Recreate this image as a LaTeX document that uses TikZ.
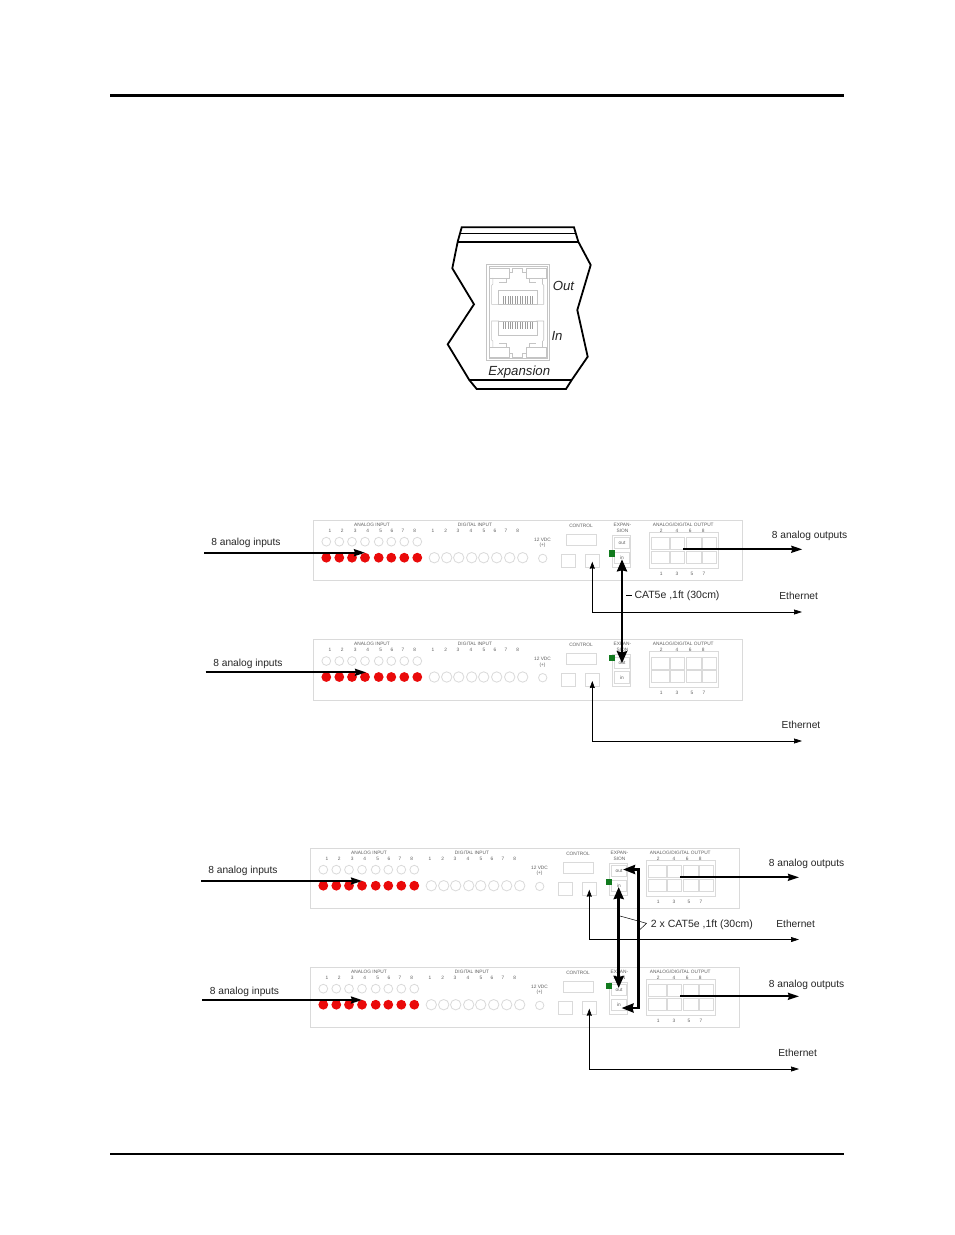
\documentclass[tikz,border=0pt]{standalone}
\usepackage{fontspec}
\setmainfont{Liberation Sans}
\usetikzlibrary{arrows.meta}
\definecolor{pline}{HTML}{DADADA}
\definecolor{ptext}{HTML}{606060}
\definecolor{ledred}{HTML}{EA0A0A}
\definecolor{ledgreen}{HTML}{117A1E}
\definecolor{jack}{HTML}{C4C4C4}
\newcommand{\smallsz}{\fontsize{4.8}{5}\selectfont}
\newcommand{\labsz}{\fontsize{10.2}{12}\selectfont}
\newcommand{\catsz}{\fontsize{10.5}{12}\selectfont}
\tikzset{
  x=1pt,y=-1pt,
  pbox/.style={draw=pline,line width=.8pt},
  ptxt/.style={inner sep=0pt,text=ptext,font=\smallsz},
  lab/.style={inner sep=0pt,text=black!85,font=\labsz},
  catlab/.style={inner sep=0pt,text=black!85,font=\catsz,anchor=west},
  fat/.style={line width=2.9pt,{Stealth[length=12pt,width=10pt,inset=1pt]}-{Stealth[length=12pt,width=10pt,inset=1pt]}},
  fatloop/.style={line width=2.7pt,line join=miter,{Stealth[length=12pt,width=9pt,inset=1pt]}-{Stealth[length=12pt,width=9pt,inset=1pt]}},
  feed/.style={line width=1.9pt,-{Stealth[length=11pt,width=7pt,inset=1pt]}},
  eth/.style={line width=.6pt,{Stealth[length=7pt,width=5pt,inset=.5pt]}-{Stealth[length=8pt,width=5pt,inset=.5pt]}},
  jk/.style={draw=jack,line width=.55pt},
  shell/.style={draw=black,line width=1.8pt,line join=miter},
  ital/.style={inner sep=0pt,text=black!85,font=\fontsize{13.2}{15}\selectfont\itshape},
}
% #1 name, #2 dx, #3 dy, #4 green-square top y
\newcommand{\rackpanel}[4]{%
\begin{scope}[shift={(#2,#3)}]
  \node[pbox,inner sep=0pt,minimum width=428.7pt,minimum height=60.8pt,anchor=north west] (#1body) at (313,519.5) {};
  \node[ptxt] (#1at) at (372,524.7) {ANALOG INPUT};
  \node[ptxt] (#1dt) at (475,524.7) {DIGITAL INPUT};
  \foreach \x/\t in {330/1,342.3/2,355.3/3,367.7/4,380.7/5,392/6,403/7,414.7/8}
    \node[ptxt] at (\x,530.9) {\t};
  \foreach \x/\t in {433/1,445.7/2,458/3,471/4,484/5,495/6,506/7,517.7/8}
    \node[ptxt] at (\x,530.9) {\t};
  \foreach \x in {326.3,339.3,352,365,378.7,391.3,404.3,417.3}{
    \draw[pbox] (\x,541.7) circle[radius=4.4];
    \fill[ledred] (\x,557.7) circle[radius=4.9];
  }
  \foreach \x in {434.3,446.7,458.7,471.7,483.7,496.7,509.7,522.7}
    \draw[pbox] (\x,557.7) circle[radius=5.2];
  \node[ptxt] at (542.5,540) {12 VDC};
  \node[ptxt] at (542.5,545.5) {(+)};
  \draw[pbox] (542.7,558.4) circle[radius=4.2];
  \node[ptxt] at (581,526) {CONTROL};
  \draw[pbox] (566.3,534.3) rectangle (596.3,545.3);
  \draw[pbox] (561.3,554.5) rectangle (575.7,567);
  \draw[pbox] (585.3,554.5) rectangle (599.7,567);
  \coordinate (#1ctl) at (592.3,561.7);
  \node[ptxt] at (622.5,524.7) {EXPAN-};
  \node[ptxt] at (622.5,530.9) {SION};
  \draw[pbox] (612.3,535.3) rectangle (630.7,567);
  \draw[pbox] (614.7,537.7) rectangle (629.3,548.7);
  \draw[pbox] (614.7,552.3) rectangle (629.3,563.7);
  \node[ptxt] at (622,543.2) {out};
  \node[ptxt] at (622,558) {in};
  \fill[ledgreen] (608.7,#4) rectangle ++(6.6,6.2);
  \node[ptxt] at (683.3,524.7) {ANALOG/DIGITAL OUTPUT};
  \foreach \x/\t in {661.3/2,677/4,690.3/6,703.3/8}
    \node[ptxt] at (\x,530.9) {\t};
  \draw[pbox] (649.3,532.3) rectangle (718.3,568.3);
  \foreach \a/\b in {651.3/669,670/684.7,686.3/701,702.3/716.7}{
    \draw[pbox] (\a,537.7) rectangle (\b,549.7);
    \draw[pbox] (\a,551.3) rectangle (\b,563.3);
  }
  \coordinate (#1outp) at (683.3,549.3);
  \foreach \x/\t in {661.3/1,677/3,692/5,704/7}
    \node[ptxt] at (\x,573.9) {\t};
\end{scope}}
% one network jack; base line at the origin, body towards negative y
\newcommand{\rjjack}[1]{%
\begin{scope}[yscale=#1]
  \draw[jk] (-46,-68) rectangle (-14,-50);
  \draw[jk] (14,-68) rectangle (46,-50);
  \draw[jk] (-14,-60) -- (-8,-60) -- (-8,-68) -- (8,-68) -- (8,-60) -- (14,-60);
  \draw[jk] (-40,-50) -- (-40,-38) -- (-42,-36) -- (-42,0) -- (-30,0);
  \draw[jk] (40,-50) -- (40,-38) -- (42,-36) -- (42,0) -- (30,0);
  \draw[jk] (-18,-50) -- (-18,-42) -- (-30,-42);
  \draw[jk] (18,-50) -- (18,-42) -- (30,-42);
  \draw[jk] (-31,0) -- (-31,-26) -- (31,-26) -- (31,0) -- cycle;
  \foreach \k in {-24,-20,...,24}
    \draw[draw=jack!80!black,line width=.5pt] (\k,-1) -- (\k,-16);
\end{scope}}
\begin{document}
\begin{tikzpicture}
\useasboundingbox (0,0) rectangle (954,1235);
\fill[white] (0,0) rectangle (954,1235);
% page rules
\coordinate (hl) at (110,95.8); \coordinate (hr) at (844,95.8);
\coordinate (fl) at (110,1154); \coordinate (fr) at (844,1154);
\draw[line width=3pt,black] (hl) -- (hr);
\draw[line width=2pt,black] (fl) -- (fr);
% expansion close-up
\draw[shell] (461.7,227.3) -- (574,227.3) -- (578.3,241.7) -- (590.7,265) -- (577.3,310) -- (587.7,356.7) -- (571.7,380) -- (566,389) -- (476.7,389) -- (469.3,380) -- (447.7,344.3) -- (474,304.3) -- (452.3,268.3) -- (457.7,241.7) -- cycle;
\draw[line width=1.2pt] (460.3,233.3) -- (575.8,233.3);
\draw[line width=2.2pt] (457.7,241.7) -- (578.3,241.7);
\draw[line width=2.2pt] (469.3,380) -- (571.7,380);
\draw[draw=jack,line width=.7pt] (486.7,264.3) rectangle (549.3,360.7);
\draw[jk] (489,266.5) rectangle (547,358.5);
\begin{scope}[shift={(517.7,304.3)},x=.62pt,y=-.53pt]
  \rjjack{1}
\end{scope}
\begin{scope}[shift={(517.7,321)},x=.62pt,y=-.53pt]
  \rjjack{-1}
\end{scope}
\node[ital] (jout) at (563.5,285.7) {Out};
\node[ital] (jin) at (557,336.3) {In};
\node[ital] (jexp) at (519.3,372) {Expansion};
% first pair of units
\rackpanel{a}{0}{0}{550.3}
\rackpanel{b}{0}{119.3}{535.5}
\coordinate (as) at (204.3,552.7); \coordinate (ae) at (365,552.7);
\coordinate (bs) at (205.5,672.3); \coordinate (be) at (366,672.3);
\draw[feed] (as) -- (ae);
\draw[feed] (bs) -- (be);
\node[lab] (ali) at (246,543) {8 analog inputs};
\node[lab] (bli) at (248,664) {8 analog inputs};
\coordinate (aoe) at (802.3,549.3);
\draw[feed] (aoutp) -- (aoe);
\node[lab] (alo) at (809.6,536.3) {8 analog outputs};
\coordinate (ae1) at (802,612); \coordinate (ae2) at (802,741);
\draw[eth] (actl) |- (ae1);
\draw[eth] (bctl) |- (ae2);
\node[lab] (aeth) at (798.7,596) {Ethernet};
\node[lab] (beth) at (801,724.5) {Ethernet};
\coordinate (c1t) at (622,559.3); \coordinate (c1b) at (622,663.3);
\draw[fat] (c1t) -- (c1b);
\node[catlab] (cat) at (634.3,595.8) {CAT5e ,1ft (30cm)};
\coordinate (ct) at (626,595.3); \coordinate (cu) at (631.7,595.3);
\draw[line width=.5pt] (ct) -- (cu);
% second pair of units
\rackpanel{c}{-3}{328}{550.8}
\rackpanel{d}{-3}{447}{535.7}
\coordinate (cs) at (201,881); \coordinate (ce) at (362,881);
\coordinate (ds) at (202,1000); \coordinate (de) at (362,1000);
\draw[feed] (cs) -- (ce);
\draw[feed] (ds) -- (de);
\node[lab] (cli) at (243,871) {8 analog inputs};
\node[lab] (dli) at (244.5,992) {8 analog inputs};
\coordinate (coe) at (799,877.3); \coordinate (doe) at (799,996.3);
\draw[feed] (coutp) -- (coe);
\draw[feed] (doutp) -- (doe);
\node[lab] (clo) at (806.6,864) {8 analog outputs};
\node[lab] (dlo) at (806.6,984.7) {8 analog outputs};
\coordinate (ce1) at (799,939.5); \coordinate (ce2) at (799,1069);
\draw[eth] (cctl) |- (ce1);
\draw[eth] (dctl) |- (ce2);
\node[lab] (ceth) at (795.7,924.3) {Ethernet};
\node[lab] (deth) at (797.7,1052.7) {Ethernet};
\coordinate (c2t) at (618.7,887); \coordinate (c2b) at (618.7,988);
\draw[fat] (c2t) -- (c2b);
\coordinate (l1) at (623,869.5); \coordinate (l2) at (638.7,869.5);
\coordinate (l3) at (638.7,1008); \coordinate (l4) at (621.5,1008);
\draw[fatloop] (l1) -- (l2) -- (l3) -- (l4);
\node[catlab] (cat2) at (650.7,925) {2 x CAT5e ,1ft (30cm)};
\coordinate (b1) at (620,916); \coordinate (b2) at (646.5,923.3); \coordinate (b3) at (640,929.5);
\draw[line width=.5pt] (b1) -- (b2) -- (b3);
\end{tikzpicture}
\end{document}
